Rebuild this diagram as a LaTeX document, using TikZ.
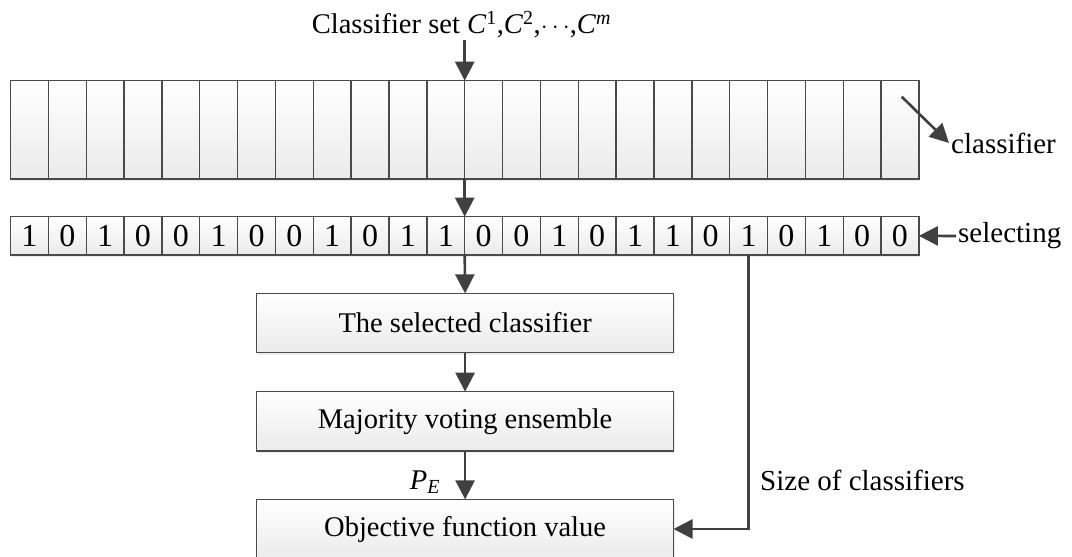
\documentclass[tikz,border=0pt]{standalone}
\usepackage{fontspec}
\setmainfont{Liberation Serif}
\usetikzlibrary{arrows.meta,shadows}
\definecolor{lc}{HTML}{404040}
\definecolor{bc}{HTML}{4a4a4a}
\newcommand\ftxt{\fontsize{28.5}{34}\selectfont}
\newcommand\flab{\fontsize{29}{35}\selectfont}
\newcommand\fdig{\fontsize{32}{37}\selectfont}
\tikzset{
  boxfill/.style={draw=bc, line width=1.4pt, top color=white, bottom color=gray!16,
    drop shadow={shadow xshift=1.5pt, shadow yshift=-2pt, opacity=0.15}},
  cellbox/.style={boxfill, minimum width=37.85pt, inner sep=0pt, outer sep=0pt},
  flowbox/.style={boxfill, minimum width=416.8pt, minimum height=59.3pt, inner sep=0pt, outer sep=0pt, font=\ftxt},
  arr/.style={draw=lc, line width=2.6pt, -{Triangle[width=19pt,length=19pt]}},
  lbl/.style={font=\flab, inner sep=2pt}
}
\begin{document}
\begin{tikzpicture}[x=1pt,y=1pt]
\useasboundingbox[fill=white] (0,0) rectangle (1072,-557);
% top row of classifiers
\foreach \i in {1,...,24}
  \node[cellbox, minimum height=98.3pt] (c\i) at ({10.5+(\i-0.5)*37.85}, -129.85) {};
% selecting bits
\foreach \i/\v in {1/1,2/0,3/1,4/0,5/0,6/1,7/0,8/0,9/1,10/0,11/1,12/1,13/0,14/0,15/1,16/0,17/1,18/1,19/0,20/1,21/0,22/1,23/0,24/0}
  \node[cellbox, minimum height=38.3pt, font=\fdig] (b\i) at ({10.5+(\i-0.5)*37.85}, -235.85) {\v};
% flow boxes
\node[flowbox] (sel) at (465.1,-323) {The selected classifier};
\node[flowbox] (maj) at (465.1,-421.35) {Majority voting ensemble};
\node[flowbox] (obj) at (465.1,-529) {Objective function value};
% title
\node[font=\ftxt, inner sep=1pt] (title) at (461.5,-25) {Classifier set \textit{C}\textsuperscript{1},\textit{C}\textsuperscript{2},$\cdots$,\textit{C}\textsuperscript{\textit{m}}};
% labels
\node[lbl, anchor=west] (lclass) at (949,-143) {classifier};
\node[lbl, anchor=west] (lsel) at (956,-236) {selecting};
\node[lbl, anchor=west] (lsize) at (758,-480) {Size of classifiers};
\node[font=\ftxt, inner sep=1pt] (pe) at (425,-482) {\textit{P}\textsubscript{\textit{E}}};
\coordinate (cs) at (901.7,-96.7);
% connectors
\draw[arr] (title.south -| c12.north east) -- (c12.north east);
\draw[arr] (c12.south east) -- (b12.north east);
\draw[arr] (b12.south east) -- (sel.north);
\draw[arr] (sel.south) -- (maj.north);
\draw[arr] (maj.south) -- (obj.north);
\draw[arr] (b20.south) |- (obj.east);
\draw[arr] (cs) -- (lclass.west);
\draw[arr] (lsel.west) -- (b24.east);
\end{tikzpicture}
\end{document}
